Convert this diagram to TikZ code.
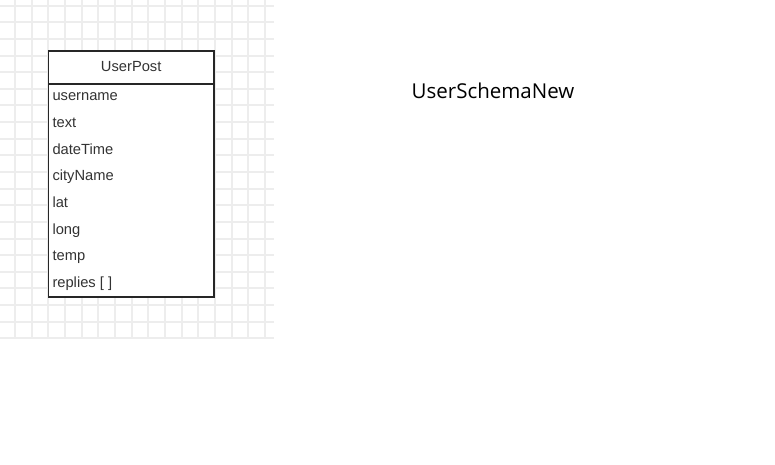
\documentclass[tikz,border=0pt]{standalone}
\usepackage{fontspec}
\setmainfont{Liberation Sans}
\newfontfamily\titlefont{Open Sans}
\begin{document}
\begin{tikzpicture}[x=1pt,y=-1pt,
  gridline/.style={draw=black!7,line width=2pt},
  classbox/.style={draw=black!85,line width=1.6pt},
  field/.style={anchor=base west,inner sep=0pt,font=\fontsize{14.7}{16}\selectfont,text=black!80},
  classname/.style={anchor=base,inner sep=0pt,font=\fontsize{14.7}{16}\selectfont,text=black!80},
  heading/.style={inner sep=0pt,font=\titlefont\fontsize{20.5}{24}\selectfont,text=black}]
\useasboundingbox (0,0) rectangle (775,465);
\fill[white] (0,0) rectangle (775,465);
% grid
\foreach \i in {0,...,15} {
  \pgfmathsetmacro{\gx}{round(15+16.667*\i)}
  \draw[gridline] (\gx,0) -- (\gx,339);
}
\foreach \j in {0,...,20} {
  \pgfmathsetmacro{\gy}{round(5.7+16.63*\j)}
  \draw[gridline] (0,\gy) -- (274,\gy);
}
% class box
\fill[white] (48.3,51) rectangle (214,296.7);
\draw[classbox] (48.3,51) rectangle (214,296.7);
\draw[classbox] (48.3,84) -- (214,84);
\node[classname] (title) at (131.2,71.7) {UserPost};
\node[field] (f1) at (52.3,101) {username};
\node[field] (f2) at (52.3,127.6) {text};
\node[field] (f3) at (52.3,154.2) {dateTime};
\node[field] (f4) at (52.3,180.8) {cityName};
\node[field] (f5) at (52.3,207.4) {lat};
\node[field] (f6) at (52.3,234) {long};
\node[field] (f7) at (52.3,260.6) {temp};
\node[field] (f8) at (52.3,287.2) {replies [ ]};
\node[heading] (schema) at (493,90.5) {UserSchemaNew};
\end{tikzpicture}
\end{document}
